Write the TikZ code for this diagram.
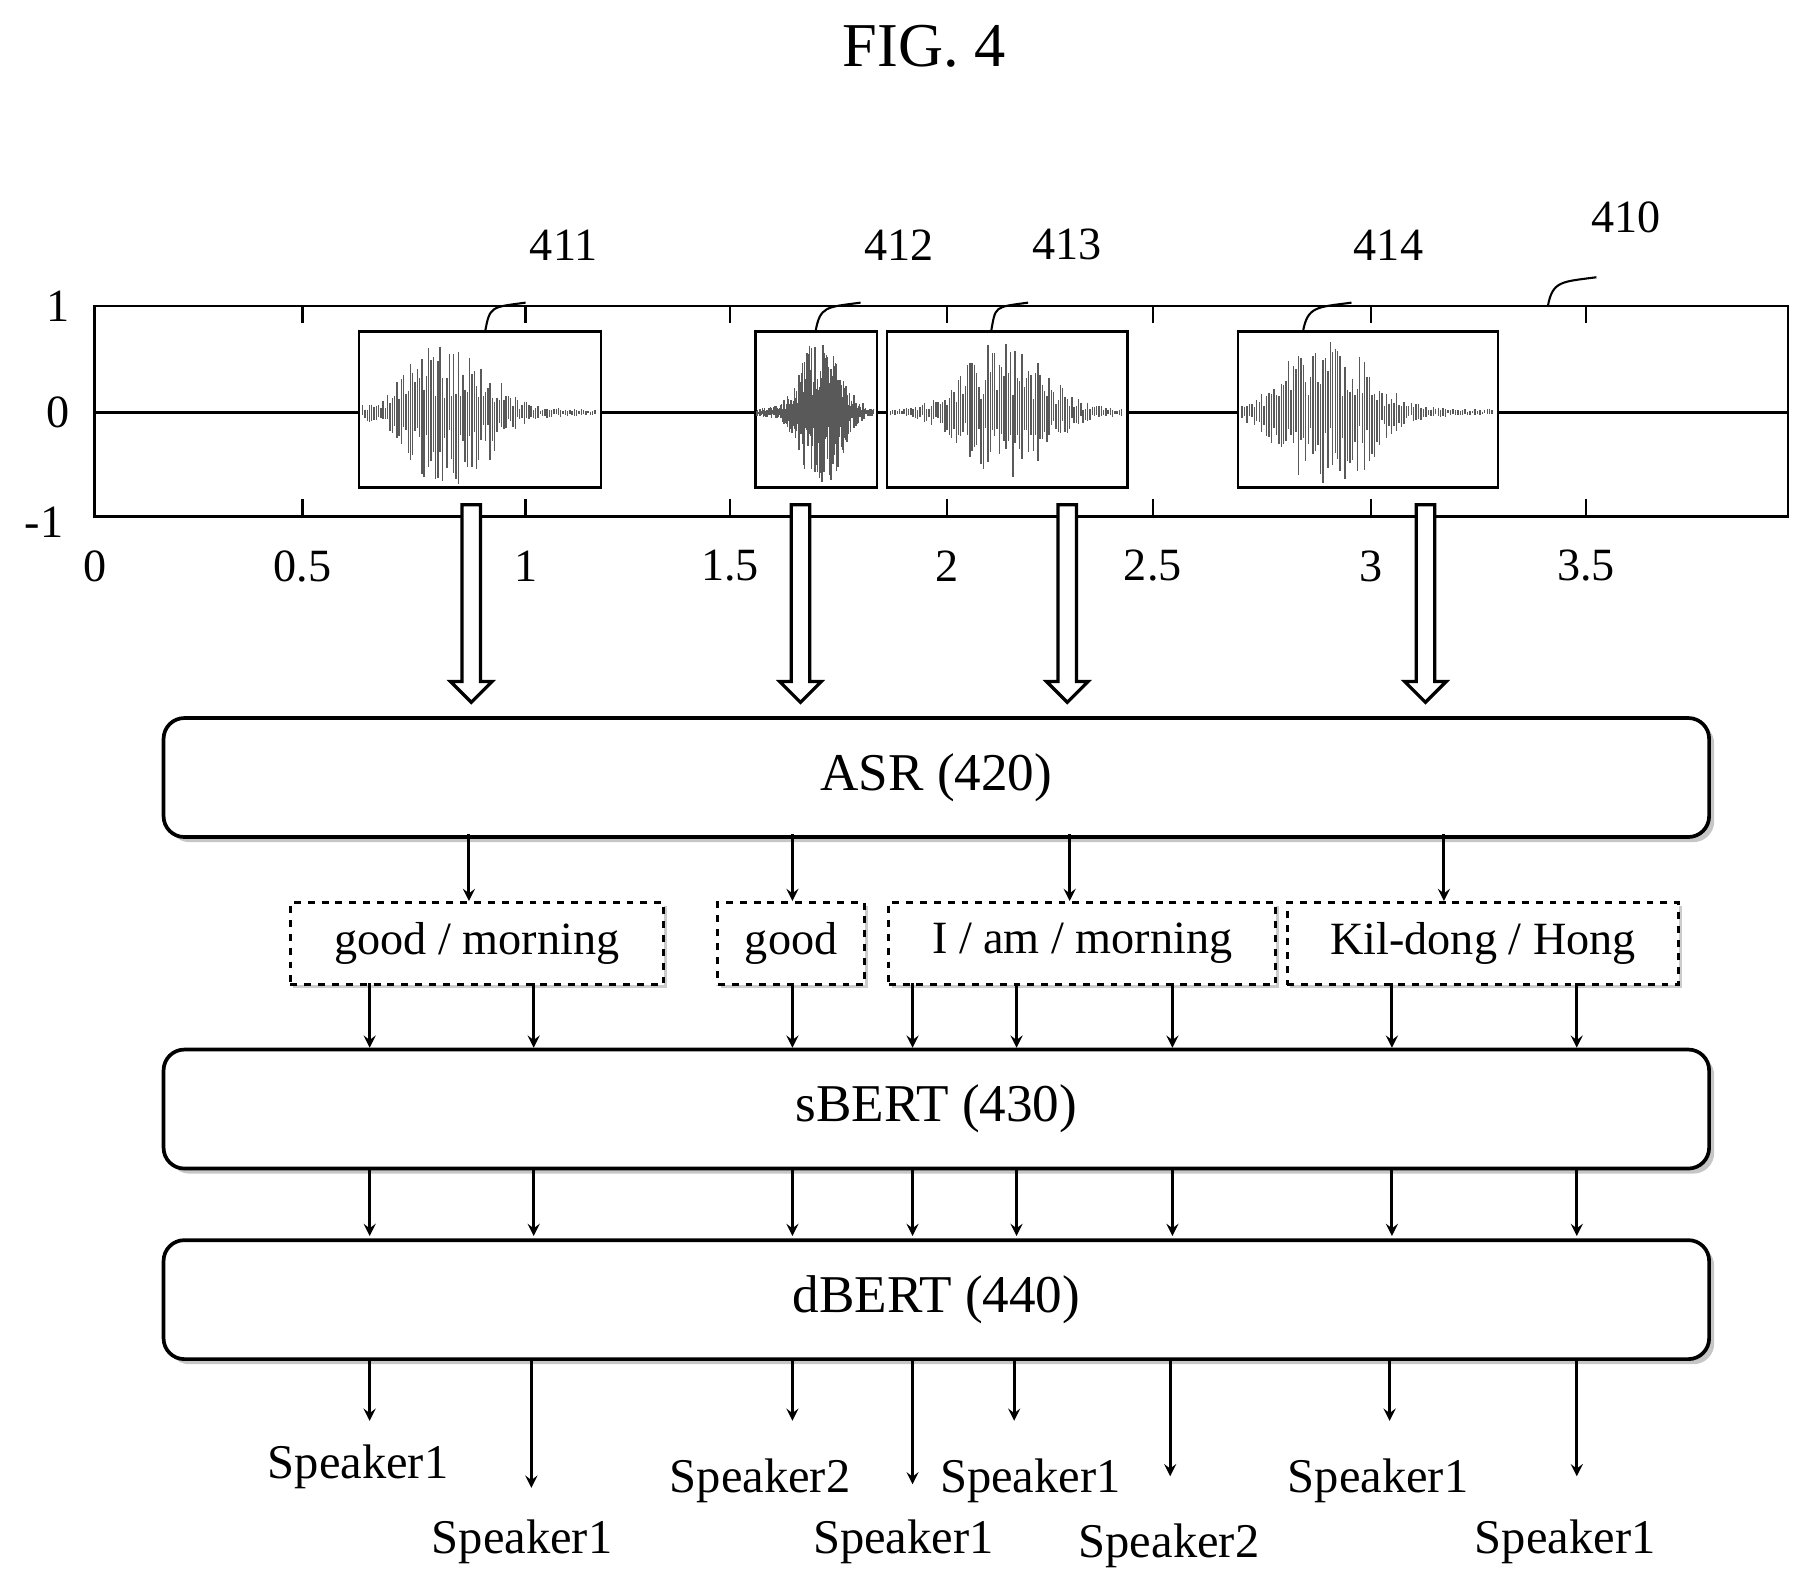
\documentclass[tikz,border=0pt]{standalone}
\usepackage{fontspec}
\setmainfont{Liberation Serif}
\begin{document}
\begin{tikzpicture}[x=0.5pt,y=-0.5pt,
 blk/.style={draw,line width=1.6pt,rounded corners=9pt,fill=white},
 shd/.style={fill=gray!45,rounded corners=9pt},
 wbox/.style={draw,line width=1pt,fill=white},
 dbox/.style={draw,dashed,line width=1.4pt,fill=white,font=\fontsize{20}{22}\selectfont},
 arr/.style={-stealth,line width=1.3pt},
 lab/.style={font=\fontsize{20}{22}\selectfont},
 big/.style={font=\fontsize{23}{26}\selectfont},
 spk/.style={font=\fontsize{21}{24}\selectfont}]
\useasboundingbox (0,0) rectangle (1560,1377);
\node[font=\fontsize{27}{30}\selectfont] (title) at (800,40) {FIG. 4};
% axes
\draw[line width=1.1pt] (82,265) rectangle (1548,447);
\draw[line width=1pt] (82,357) -- (1548,357);
\foreach \x/\t in {82/0,262/0.5,455/1,632/1.5,820/2,998/2.5,1187/3,1373/3.5}{
  \draw[line width=1pt] (\x,265) -- (\x,280) (\x,447) -- (\x,432);
  \node[lab] at (\x,490) {\t};}
\foreach \y/\t in {265/1,357/0}{\node[lab] at (50,\y) {\t};}
\node[lab] at (38,452) {-1};
% waveforms
\pgfmathsetseed{7}
\foreach \a/\b/\pk/\nm in {310/519/0.38/w1,653/758/0.55/w2,767/975/0.5/w3,1071/1296/0.35/w4}{
  \pgfmathsetmacro{\ww}{(\b-\a)/106}
  \pgfmathsetmacro{\wpt}{(\b-\a)*0.5}
  \node[wbox,minimum width=\wpt pt,minimum height=67.5pt,inner sep=0pt,anchor=north west] (\nm) at (\a,286) {};
  \foreach \i in {2,...,104}{
    \pgfmathsetmacro{\xx}{\a+\ww*\i}
    \pgfmathsetmacro{\dd}{(\i/106-\pk)/0.2}
    \pgfmathsetmacro{\env}{60/(1+\dd*\dd*\dd*\dd)+2}
    \pgfmathsetmacro{\hu}{\env*(0.2+0.8*rnd)}
    \pgfmathsetmacro{\hd}{\env*(0.2+0.8*rnd)}
    \draw[gray!70!black,line width=0.6pt] (\xx,357-\hu) -- (\xx,357+\hd);}
}
% labels and leaders
\foreach \x/\y/\t/\lx/\ly/\ex/\ey in {488/212/411/455/262/420/287,778/212/412/745/262/706/287,924/212/413/890/262/858/287,1202/212/414/1170/262/1128/287,1408/188/410/1382/240/1340/265}{
  \node[lab] (n\t) at (\x,\y) {\t};
  \draw[line width=0.9pt] (\ex,\ey) .. controls (\ex+4,\ey-22) and (\lx-30,\ly+4) .. (\lx,\ly);}
% hollow arrows
\foreach \x in {408,693,924,1234}{
  \draw[line width=1.4pt,fill=white] (\x-8,437) -- (\x+8,437) -- (\x+8,590) -- (\x+18,590) -- (\x,608) -- (\x-18,590) -- (\x-8,590) -- cycle;}
% blocks
\foreach \n/\y/\t in {asr/620/ASR (420),sb/907/sBERT (430),db/1072/dBERT (440)}{
  \fill[shd] (146,\y+6) rectangle (1484,\y+109);
  \node[blk,big,minimum width=669pt,minimum height=51.5pt,anchor=north west] (\n) at (140,\y) {\t};}
% dashed boxes
\foreach \n/\a/\b/\t in {d1/250/573/{good / morning},d2/620/747/{good},d3/768/1103/{I / am / morning},d4/1113/1452/{Kil-dong / Hong}}{
  \pgfmathsetmacro{\wpt}{(\b-\a)*0.5}
  \fill[gray!40] (\a+4,784) rectangle (\b+4,855);
  \node[dbox,minimum width=\wpt pt,minimum height=35.5pt,inner sep=0pt,anchor=north west] (\n) at (\a,780) {\t};}
\foreach \x/\n in {406/d1,686/d2,926/d3,1250/d4}{\draw[arr] (\x,722) -- (\x,780);}
\foreach \x in {320,462,686,790,880,1015,1205,1365}{
  \draw[arr] (\x,851) -- (\x,907);
  \draw[arr] (\x,1012) -- (\x,1070);}
% outputs
\foreach \x/\e in {320/1230,460/1288,686/1230,790/1285,878/1230,1013/1278,1203/1230,1365/1278}{
  \draw[arr] (\x,1177) -- (\x,\e);}
\foreach \x/\y/\t in {310/1270/Speaker1,452/1335/Speaker1,658/1282/Speaker2,782/1335/Speaker1,892/1282/Speaker1,1012/1338/Speaker2,1193/1282/Speaker1,1355/1335/Speaker1}{
  \node[spk] at (\x,\y) {\t};}
\end{tikzpicture}
\end{document}
